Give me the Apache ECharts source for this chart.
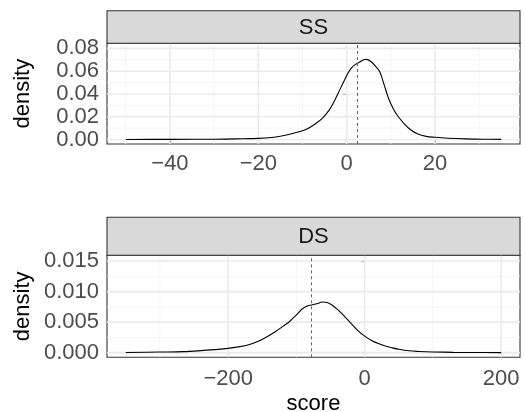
<!DOCTYPE html>
<html><head><meta charset="utf-8">
<script src="https://cdn.jsdelivr.net/npm/echarts@6/dist/echarts.min.js"></script>
<style>html,body{margin:0;padding:0;background:#fff}#c{width:525px;height:412px}</style>
</head><body><div id="c"></div>
<script>
// ---- data ----
const panelNames = ['SS', 'DS'];
const ssX = [-50,-40,-30,-25,-20,-17,-15,-13,-11,-9,-7,-5.5,-4,-3,-2,-1,0,1,2,3,4,4.5,5.5,6.5,7.5,8.5,9.5,10.5,11.5,13,14.5,16,18,20,23,27,31,35];
const ssY = [0.0000,0.0001,0.0002,0.0005,0.0009,0.0017,0.0028,0.0045,0.0065,0.0091,0.0140,0.0185,0.0255,0.0320,0.0400,0.0480,0.0560,0.0625,0.0660,0.0680,0.0702,0.0704,0.0685,0.0645,0.0595,0.0480,0.0360,0.0275,0.0210,0.0140,0.0085,0.0050,0.0027,0.0019,0.0011,0.0005,0.0002,0.0001];
const dsX = [-350,-300,-265,-240,-220,-200,-185,-170,-155,-143,-130,-120,-110,-100,-92,-85,-78,-70,-62,-55,-48,-40,-30,-20,-10,0,10,20,30,40,50,65,80,100,130,160,200];
const dsY = [0.00002,0.0001,0.00017,0.00033,0.0005,0.0007,0.00095,0.0013,0.0019,0.0026,0.0035,0.0043,0.0051,0.0062,0.0071,0.0076,0.0078,0.0080,0.0083,0.0082,0.0078,0.0071,0.0060,0.0048,0.0036,0.0027,0.0020,0.0015,0.0011,0.0008,0.00055,0.0003,0.0002,0.00012,0.00005,0.00002,0.00001];
const ssMean = 2.5;
const dsMean = -79;
const ssXMajor = [-40,-20,0,20];
const ssXMinor = [-50,-30,-10,10,30];
const ssYMajor = [0,0.02,0.04,0.06,0.08];
const ssYMinor = [0.01,0.03,0.05,0.07];
const dsXMajor = [-200,0,200];
const dsXMinor = [-300,-100,100];
const dsYMajor = [0,0.005,0.01,0.015];
const dsYMinor = [0.0025,0.0075,0.0125];
const xTitle = 'score';
const yTitle = 'density';

// ---- layout ----
const FONT = 'Liberation Sans, Arial, Helvetica, sans-serif';
const L = 107, W = 413;
const grids = [
  {left: L, top: 43.3, width: W, height: 100.7},
  {left: L, top: 255.3, width: W, height: 102}
];
const strips = [{y: 10.7, h: 32.6}, {y: 217.3, h: 38}];
const xr = [[-54.25, 39.25], [-377.5, 227.5]];
const yr = [[-0.004, 0.0845], [-0.00076, 0.01594]];
const yDec = [2, 3];
const fmtX = v => v < 0 ? '\u2212' + Math.abs(v) : String(v);

const chart = echarts.init(document.getElementById('c'), null, {renderer: 'canvas'});
const xMaj = [ssXMajor, dsXMajor], xMin = [ssXMinor, dsXMinor];
const yMaj = [ssYMajor, dsYMajor], yMin = [ssYMinor, dsYMinor];
const xs = [ssX, dsX], ys = [ssY, dsY], means = [ssMean, dsMean];

const option = {
  animation: false,
  grid: grids.map(g => Object.assign({show: true, borderColor: '#333333', borderWidth: 1.1, backgroundColor: '#fff', containLabel: false}, g)),
  xAxis: [0,1].map(i => ({
    type: 'value', gridIndex: i, min: xr[i][0], max: xr[i][1],
    axisLine: {show: false},
    splitLine: {show: false},
    axisTick: {show: true, length: 3.5, customValues: xMaj[i], lineStyle: {color: '#333', width: 1.1}},
    axisLabel: {customValues: xMaj[i], formatter: fmtX, color: '#4d4d4d', fontSize: 22, fontFamily: FONT, margin: i === 0 ? 9 : 11}
  })),
  yAxis: [0,1].map(i => ({
    type: 'value', gridIndex: i, min: yr[i][0], max: yr[i][1],
    axisLine: {show: false},
    splitLine: {show: false},
    axisTick: {show: true, length: 3.5, customValues: yMaj[i], lineStyle: {color: '#333', width: 1.1}},
    axisLabel: {customValues: yMaj[i], formatter: v => v.toFixed(yDec[i]), color: '#4d4d4d', fontSize: 22, fontFamily: FONT, margin: 8}
  })),
  series: [],
  graphic: []
};

function gridRender(params, api) {
  const cs = params.coordSys;
  const p = api.coord([api.value(0), api.value(1)]);
  const vertical = api.value(2) === 0;
  const major = api.value(3) === 1;
  const shape = vertical
    ? {x1: p[0], y1: cs.y, x2: p[0], y2: cs.y + cs.height}
    : {x1: cs.x, y1: p[1], x2: cs.x + cs.width, y2: p[1]};
  return {type: 'line', shape: shape, silent: true,
    style: {stroke: major ? '#ebebeb' : '#f2f2f2', lineWidth: major ? 1.6 : 0.8}};
}

[0,1].map(i => {
  const gd = [];
  xMin[i].forEach(v => gd.push([v, yr[i][0], 0, 0]));
  yMin[i].forEach(v => gd.push([xr[i][0], v, 1, 0]));
  xMaj[i].forEach(v => gd.push([v, yr[i][0], 0, 1]));
  yMaj[i].forEach(v => gd.push([xr[i][0], v, 1, 1]));
  option.series.push({
    type: 'custom', xAxisIndex: i, yAxisIndex: i, z: 1, silent: true,
    renderItem: gridRender, data: gd, clip: false
  });
  option.series.push({
    type: 'line', xAxisIndex: i, yAxisIndex: i, z: 3,
    data: xs[i].map((x, k) => [x, ys[i][k]]),
    smooth: 0.35, showSymbol: false, symbol: 'none',
    lineStyle: {color: '#000', width: 1.1},
    markLine: {silent: true, symbol: ['none','none'], label: {show: false},
      lineStyle: {type: [3, 3], color: '#666', width: 1}, data: [{xAxis: means[i]}]}
  });
  option.graphic.push({
    type: 'rect', shape: {x: L, y: strips[i].y, width: W, height: strips[i].h},
    style: {fill: '#d9d9d9', stroke: '#333333', lineWidth: 1.1}, z: 10
  });
  option.graphic.push({
    type: 'text', x: L + W / 2, y: strips[i].y + strips[i].h / 2 + 1,
    style: {text: panelNames[i], fill: '#1a1a1a', font: '22px ' + FONT, align: 'center', verticalAlign: 'middle'}, z: 11
  });
  option.graphic.push({
    type: 'text', x: 23, y: grids[i].top + grids[i].height / 2, rotation: Math.PI / 2,
    style: {text: yTitle, fill: '#000', font: '22px ' + FONT, align: 'center', verticalAlign: 'middle'}, z: 11
  });
});
option.graphic.push({
  type: 'text', x: L + W / 2, y: 404,
  style: {text: xTitle, fill: '#000', font: '22px ' + FONT, align: 'center', verticalAlign: 'middle'}, z: 11
});
chart.setOption(option);
</script></body></html>
